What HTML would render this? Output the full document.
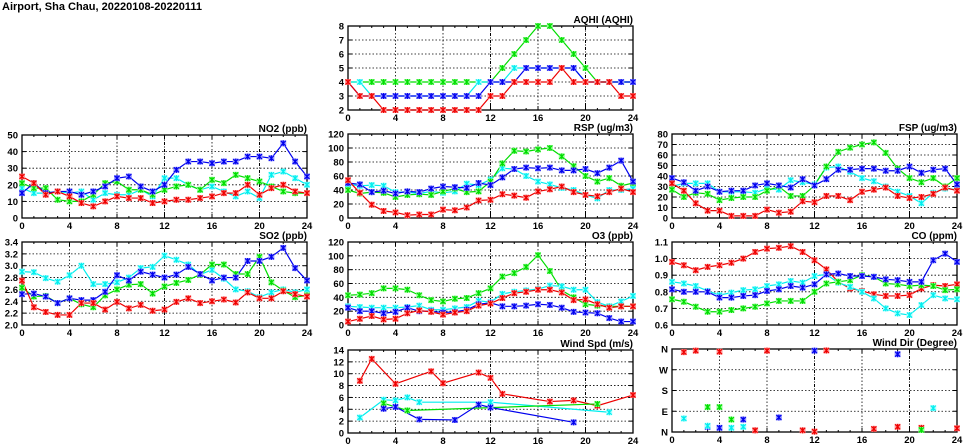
<!DOCTYPE html>
<html><head><meta charset="utf-8"><style>
html,body{margin:0;padding:0;background:#fff;}
svg{display:block;}
text{font-family:"Liberation Sans",sans-serif;font-weight:bold;fill:#000;}
</style></head><body>
<svg id="s" width="975" height="447" viewBox="0 0 975 447" xmlns="http://www.w3.org/2000/svg">
<text x="2" y="10" font-size="11">Airport, Sha Chau, 20220108-20220111</text>
</svg>
<script>
const N=null;
const C={r:['#ee0000','#ff9999'],g:['#00dd00','#99ff99'],b:['#0000ee','#9999ff'],c:['#00eeee','#aaffff']};
const panels=[
{t:'AQHI (AQHI)',x:348,y:26,h:84,min:2,max:8,ticks:[2,3,4,5,6,7,8],fmt:v=>v,
 s:{g:[4,4,4,4,4,4,4,4,4,4,4,4,4,5,6,7,8,8,7,6,5,4,4,4,4],
    c:[4,4,3,3,3,3,3,3,3,3,3,4,4,4,5,5,5,5,5,5,4,4,4,4,4],
    b:[4,3,3,3,3,3,3,3,3,3,3,3,4,4,4,5,5,5,5,5,4,4,4,4,4],
    r:[4,3,3,2,2,2,2,2,2,2,2,2,3,3,4,4,4,4,5,4,4,4,4,3,3]}},
{t:'NO2 (ppb)',x:22,y:135,h:83,min:0,max:50,ticks:[0,10,20,30,40,50],fmt:v=>v,
 s:{c:[18,15,15,16,15,16,11,15,14,14,17,13,24,24,20,17,19,16,13,16,12,26,28,24,20],
    g:[21,18,18,11,10,10,14,21,22,17,17,14,17,19,20,17,23,21,26,24,22,19,16,15,15],
    b:[15,21,15,16,16,14,16,19,24,25,19,16,20,29,34,34,33,34,34,37,37,36,45,34,25],
    r:[25,21,14,16,13,9,7,10,13,12,12,9,10,11,11,12,13,15,15,20,14,18,20,16,15]}},
{t:'RSP (ug/m3)',x:348,y:134,h:84,min:0,max:120,ticks:[0,20,40,60,80,100,120],fmt:v=>v,
 s:{c:[48,46,47,46,37,37,35,38,36,38,49,47,55,71,70,60,52,48,43,40,33,28,40,40,42],
    g:[40,35,37,36,30,33,34,33,38,42,37,38,52,78,96,95,98,100,88,74,60,52,57,46,50],
    b:[50,48,37,39,35,38,37,42,45,44,43,50,47,58,70,72,71,72,68,68,70,64,72,82,52],
    r:[54,36,19,10,8,4,5,5,12,11,15,25,26,34,32,29,38,41,45,37,33,31,37,42,37]}},
{t:'FSP (ug/m3)',x:672,y:134,h:84,min:0,max:80,ticks:[0,10,20,30,40,50,60,70,80],fmt:v=>v,
 s:{c:[30,33,33,33,25,25,25,24,28,27,36,34,32,48,49,44,38,35,30,25,21,14,24,28,27],
    g:[27,20,24,23,17,19,20,20,26,30,21,21,31,49,63,67,70,72,62,47,38,34,38,30,38],
    b:[38,34,26,30,25,26,26,31,33,31,29,37,31,37,46,46,47,47,45,45,49,43,46,47,32],
    r:[33,26,14,7,7,2,2,2,8,5,6,16,15,21,21,17,25,27,29,21,19,20,23,29,26]}},
{t:'SO2 (ppb)',x:22,y:242,h:83,min:2,max:3.4,ticks:[2,2.2,2.4,2.6,2.8,3,3.2,3.4],fmt:v=>v.toFixed(1),
 s:{c:[2.90,2.89,2.79,2.73,2.84,3.00,2.69,2.69,2.72,2.80,2.96,2.98,3.17,3.10,3.02,2.85,2.93,2.78,2.60,2.57,2.47,2.55,2.60,2.55,2.60],
    g:[2.63,2.48,2.49,2.37,2.45,2.35,2.30,2.50,2.60,2.68,2.69,2.53,2.65,2.71,2.76,2.85,3.02,3.02,2.86,2.86,3.15,2.72,2.58,2.47,2.50],
    b:[2.52,2.53,2.48,2.37,2.45,2.42,2.42,2.56,2.84,2.75,2.90,2.85,2.80,2.85,2.98,2.86,2.75,2.80,2.80,3.08,3.08,3.15,3.30,2.96,2.75],
    r:[2.75,2.30,2.22,2.17,2.17,2.37,2.37,2.26,2.39,2.28,2.34,2.24,2.26,2.39,2.45,2.37,2.40,2.43,2.38,2.55,2.45,2.45,2.57,2.52,2.48]}},
{t:'O3 (ppb)',x:348,y:242,h:83,min:0,max:120,ticks:[0,20,40,60,80,100,120],fmt:v=>v,
 s:{g:[43,44,46,53,53,51,43,36,34,38,39,46,53,70,75,84,101,78,50,40,30,28,27,27,27],
    c:[27,26,25,25,25,26,28,22,22,24,26,35,33,45,48,50,52,57,56,51,51,33,27,34,42],
    b:[25,20,20,17,19,25,20,20,18,19,22,30,32,27,27,28,30,29,25,19,18,17,10,5,5],
    r:[5,9,13,8,9,17,21,19,15,18,20,28,31,39,46,48,51,51,47,36,37,30,25,27,27]}},
{t:'CO (ppm)',x:672,y:242,h:83,min:0.6,max:1.1,ticks:[0.6,0.7,0.8,0.9,1.0,1.1],fmt:v=>v.toFixed(1),
 s:{r:[.98,.96,.93,.95,.96,.975,1.0,1.04,1.06,1.065,1.075,1.04,.99,.935,.86,.82,.805,.785,.775,.775,.78,.82,.84,.835,.845],
    c:[.86,.85,.835,.805,.78,.795,.81,.815,.835,.845,.865,.855,.895,.905,.855,.83,.80,.76,.70,.67,.66,.72,.78,.76,.755],
    g:[.755,.74,.71,.68,.68,.69,.70,.71,.73,.745,.745,.745,.80,.85,.86,.87,.90,.89,.85,.845,.835,.84,.835,.81,.815],
    b:[.815,.80,.80,.80,.765,.765,.775,.78,.805,.815,.835,.825,.845,.905,.91,.895,.895,.89,.875,.87,.86,.86,.99,1.03,.98]}},
{t:'Wind Spd (m/s)',x:348,y:350,h:83,min:0,max:14,ticks:[0,2,4,6,8,10,12,14],fmt:v=>v,
 pts:{r:[[1,8.8],[2,12.5],[4,8.3],[7,10.4],[8,8.4],[11,10.2],[12,9.3],[13,6.6],[17,5.3],[19,5.5],[21,4.6],[24,6.4]],
    c:[[1,2.6],[3,5.6],[4,5.5],[5,6],[6,5.2],[12,5.2],[22,3.5]],
    g:[[3,5],[5,3.8],[21,4.9]],
    b:[[3,4.1],[4,4.4],[6,2.3],[9,2.2],[11,4.8],[12,4.3],[19,1.8]]},line:true},
{t:'Wind Dir (Degree)',x:672,y:349,h:83,min:0,max:4,ticks:[0,1,2,3,4],fmt:v=>['N','E','S','W','N'][v],
 pts:{r:[[1,3.85],[2,3.92],[4,3.87],[8,3.92],[13,3.93],[7,0.08],[11,0.08],[12,0.02],[17,0.15],[19,0.25],[21,0.2],[24,0.18]],
    b:[[12,3.92],[19,3.75],[3,0.25],[4,0.2],[6,0.6],[9,0.7]],
    c:[[1,0.65],[3,0.3],[5,0.2],[6,0.25],[22,1.15]],
    g:[[3,1.2],[4,1.2],[5,0.6],[21,0.1]]},line:false}
];
const W=285;let h='';
function mk(x,y,k){const c=C[k];return `<rect x="${x-3}" y="${y-3}" width="6" height="6" fill="${c[1]}"/><path d="M${x-2.5} ${y-2.5}L${x+2.5} ${y+2.5}M${x+2.5} ${y-2.5}L${x-2.5} ${y+2.5}M${x} ${y-3}V${y+3}" stroke="${c[0]}" stroke-width="1.2"/>`;}
for(const p of panels){
 const X=v=>p.x+v/24*W, Y=v=>p.y+p.h-(v-p.min)/(p.max-p.min)*p.h;
 h+=`<text x="${p.x+W}" y="${p.y-3}" font-size="10" text-anchor="end">${p.t}</text>`;
 for(const t of p.ticks){const y=Y(t);
  if(t>p.min&&t<p.max)h+=`<line x1="${p.x}" x2="${p.x+W}" y1="${y}" y2="${y}" stroke="#000" stroke-width="0.8" stroke-dasharray="1.5 2"/>`;
  h+=`<line x1="${p.x}" x2="${p.x+4}" y1="${y}" y2="${y}" stroke="#000"/><line x1="${p.x+W-4}" x2="${p.x+W}" y1="${y}" y2="${y}" stroke="#000"/>`;
  h+=`<text x="${p.x-4}" y="${y+3.5}" font-size="9.5" text-anchor="end">${p.fmt(t)}</text>`;}
 for(let t=0;t<=24;t+=1){const x=X(t);
  if(t%4==0&&t>0&&t<24)h+=`<line x1="${x}" x2="${x}" y1="${p.y}" y2="${p.y+p.h}" stroke="#000" stroke-width="${t==12||t==20?1:0.8}" stroke-dasharray="${t==12||t==20?'3 1.5 1 1.5':'1.5 2'}"/>`;
  const L=t%4==0?4:2;
  h+=`<line x1="${x}" x2="${x}" y1="${p.y+p.h}" y2="${p.y+p.h-L}" stroke="#000"/><line x1="${x}" x2="${x}" y1="${p.y}" y2="${p.y+L}" stroke="#000"/>`;
  if(t%4==0)h+=`<text x="${x}" y="${p.y+p.h+11}" font-size="9.5" text-anchor="middle">${t}</text>`;}
 h+=`<rect x="${p.x}" y="${p.y}" width="${W}" height="${p.h}" fill="none" stroke="#000" stroke-width="1.3"/>`;
 let sr=p.s?Object.entries(p.s).map(([k,a])=>[k,a.map((v,i)=>[i,v])]):Object.entries(p.pts);
 for(const [k,a] of sr){
  if(p.line!==false)h+=`<polyline fill="none" stroke="${C[k][0]}" stroke-width="1.2" points="${a.map(q=>X(q[0])+','+Y(q[1])).join(' ')}"/>`;
 }
 for(const [k,a] of sr)for(const q of a)h+=mk(X(q[0]),Y(q[1]),k);
}
document.getElementById('s').insertAdjacentHTML('beforeend',h);
</script>
</body></html>
